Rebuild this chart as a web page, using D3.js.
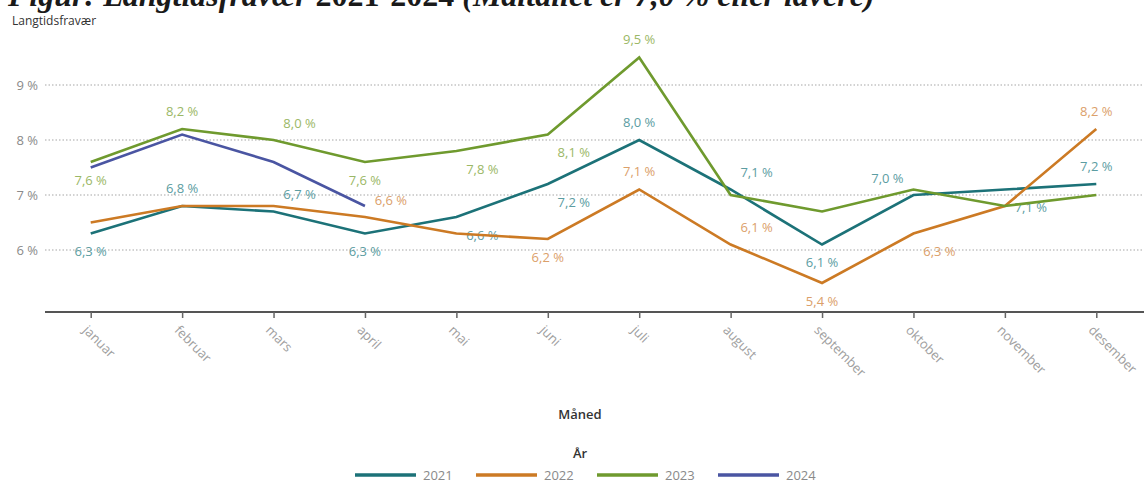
<!DOCTYPE html>
<html>
<head>
<meta charset="utf-8">
<script src="https://cdn.jsdelivr.net/npm/d3@7"></script>
<style>
  html, body { margin: 0; padding: 0; background: #fff; }
  svg { display: block; }
</style>
</head>
<body>
<svg id="chart" width="1144" height="481"></svg>
<script>
// Months and yearly long-term absence (percent)
const months = ["januar", "februar", "mars", "april", "mai", "juni", "juli",
                "august", "september", "oktober", "november", "desember"];
const years = ["2021", "2022", "2023", "2024"];
const values2021 = [6.3, 6.8, 6.7, 6.3, 6.6, 7.2, 8.0, 7.1, 6.1, 7.0, 7.1, 7.2];
const values2022 = [6.5, 6.8, 6.8, 6.6, 6.3, 6.2, 7.1, 6.1, 5.4, 6.3, 6.8, 8.2];
const values2023 = [7.6, 8.2, 8.0, 7.6, 7.8, 8.1, 9.5, 7.0, 6.7, 7.1, 6.8, 7.0];
const values2024 = [7.5, 8.1, 7.6, 6.8];
const yTicks = [6, 7, 8, 9];

// Which points carry a value label (month index per series)
const labelled2021 = [0, 1, 2, 3, 4, 5, 6, 7, 8, 9, 10, 11];
const labelled2022 = [3, 5, 6, 7, 8, 9, 11];
const labelled2023 = [0, 1, 2, 3, 4, 5, 6];

// Presentation
const seriesValues = [values2021, values2022, values2023, values2024];
const seriesLabelled = [labelled2021, labelled2022, labelled2023, []];
const lineColors = ["#1c7278", "#cc7a24", "#6f9a2e", "#4a55a2"];
const labelColors = ["#5c9da2", "#dba06a", "#9bb866", "#7d86c0"];
// label placement per series/month: [dx, dy] relative to the point
const N = [0, -18], S = [0, 18], NE = [26, -17], SE = [26, 18], NW = [-26, -17];
const placement = [
  [S, N, NE, S, SE, SE, N, NE, S, NW, SE, N],
  [null, null, null, NE, null, S, N, NE, S, SE, null, N],
  [S, N, NE, S, SE, SE, N, null, null, null, null, null],
  []
];

const svg = d3.select("#chart");
const fontSans = "'Open Sans', 'Noto Sans', sans-serif";

const x = d3.scalePoint().domain(months).range([45, 1142]).padding(0.5);
const y = d3.scaleLinear().domain([6, 9]).range([250, 85]);
const fmt = v => d3.format(".1f")(v).replace(".", ",") + " %";

// Title strip along the top edge (runs past the top of the frame)
const title = svg.append("text")
  .attr("x", 8).attr("y", 6)
  .attr("font-family", "'Liberation Serif', 'DejaVu Serif', serif")
  .attr("font-size", 32)
  .attr("font-weight", "bold")
  .attr("fill", "#1a1a1a");
title.append("tspan").attr("font-style", "italic").text("Figur: Langtidsfravær ");
title.append("tspan").text("2021-2024 ");
title.append("tspan").attr("font-style", "italic").text("(Måltallet er 7,0 % eller lavere)");

// Y axis title
svg.append("text")
  .attr("x", 12).attr("y", 25)
  .attr("font-family", fontSans).attr("font-size", 12)
  .attr("fill", "#333")
  .text("Langtidsfravær");

// Gridlines and y tick labels
const grid = svg.append("g");
grid.selectAll("line").data(yTicks).join("line")
  .attr("x1", 45).attr("x2", 1144)
  .attr("y1", d => y(d)).attr("y2", d => y(d))
  .attr("stroke", "#c4c4c4").attr("stroke-width", 1.3)
  .attr("stroke-dasharray", "1.5,2");
grid.selectAll("text").data(yTicks).join("text")
  .attr("x", 38).attr("y", d => y(d)).attr("dy", "0.35em")
  .attr("text-anchor", "end")
  .attr("font-family", fontSans).attr("font-size", 13)
  .attr("fill", "#8a8a8a")
  .text(d => d + " %");

// X axis
const xAxis = svg.append("g").attr("transform", "translate(0,312)")
  .call(d3.axisBottom(x).tickSize(6).tickSizeOuter(0));
xAxis.select(".domain").attr("stroke", "#555").attr("stroke-width", 2)
  .attr("d", "M45,0H1144");
xAxis.selectAll(".tick line").attr("stroke", "#666").attr("stroke-width", 1.5);
xAxis.selectAll(".tick text")
  .attr("font-family", fontSans).attr("font-size", 13)
  .attr("fill", "#a0a0a0")
  .attr("text-anchor", "start")
  .attr("x", 0).attr("y", 0).attr("dy", 0)
  .attr("transform", "translate(-9,19) rotate(45)");

// Value labels sit underneath the lines
const labels = svg.append("g");
seriesValues.forEach((vals, si) => {
  seriesLabelled[si].forEach(mi => {
    const p = placement[si][mi];
    if (!p) return;
    labels.append("text")
      .attr("x", x(months[mi]) + p[0])
      .attr("y", y(vals[mi]) + p[1])
      .attr("dy", "0.35em")
      .attr("text-anchor", "middle")
      .attr("font-family", fontSans).attr("font-size", 13)
      .attr("fill", labelColors[si])
      .text(fmt(vals[mi]));
  });
});

// Series lines
const line = d3.line().x((d, i) => x(months[i])).y(d => y(d));
seriesValues.forEach((vals, si) => {
  svg.append("path")
    .datum(vals)
    .attr("d", line)
    .attr("fill", "none")
    .attr("stroke", lineColors[si])
    .attr("stroke-width", 2.6)
    .attr("stroke-linejoin", "miter");
});

// X axis title
svg.append("text")
  .attr("x", 580).attr("y", 419)
  .attr("text-anchor", "middle")
  .attr("font-family", fontSans).attr("font-size", 13)
  .attr("font-weight", 600)
  .attr("fill", "#333")
  .text("Måned");

// Legend
svg.append("text")
  .attr("x", 580).attr("y", 458)
  .attr("text-anchor", "middle")
  .attr("font-family", fontSans).attr("font-size", 13)
  .attr("font-weight", 600)
  .attr("fill", "#333")
  .text("År");
const legend = svg.append("g");
years.forEach((yr, i) => {
  const lx = 355 + i * 121;
  legend.append("line")
    .attr("x1", lx).attr("x2", lx + 61)
    .attr("y1", 475).attr("y2", 475)
    .attr("stroke", lineColors[i]).attr("stroke-width", 3.5);
  legend.append("text")
    .attr("x", lx + 68).attr("y", 475).attr("dy", "0.35em")
    .attr("font-family", fontSans).attr("font-size", 13)
    .attr("fill", "#8a8a8a")
    .text(yr);
});
</script>
</body>
</html>
